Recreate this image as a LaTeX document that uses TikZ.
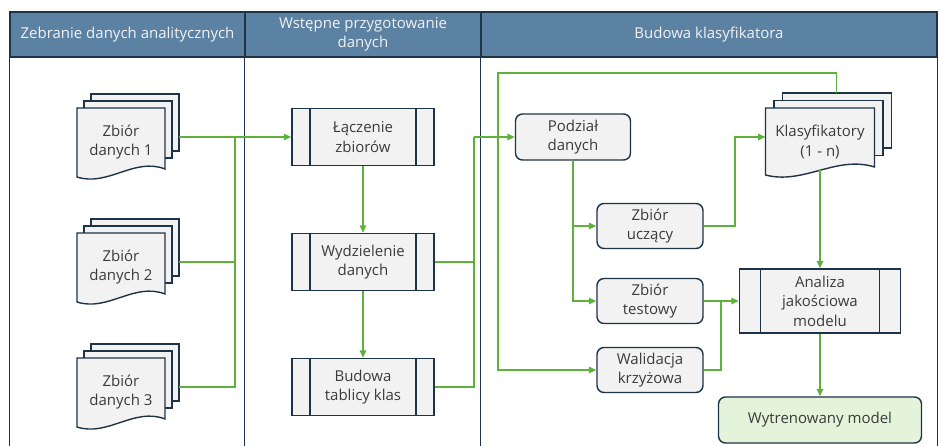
\documentclass[tikz,border=0pt]{standalone}
\usepackage{fontspec}
\setmainfont{Open Sans}
\usetikzlibrary{arrows.meta,backgrounds,calc}

\definecolor{navy}{HTML}{1F3347}
\definecolor{hdr}{HTML}{5B81A3}
\definecolor{flow}{HTML}{5EB13B}
\definecolor{boxfill}{HTML}{F2F2F2}
\definecolor{ink}{HTML}{3B3B3B}
\definecolor{done}{HTML}{E3F4DA}

\tikzset{
  lbl/.style={font=\fontsize{15}{19.5}\selectfont, text=ink, align=center},
  hdrcell/.style={draw=navy, line width=1.5pt, fill=hdr, text=white!95!black,
    font=\fontsize{15}{19.5}\selectfont, align=center, minimum height=45pt, inner sep=0pt},
  frame/.style={draw=navy, line width=1.5pt},
  box/.style={lbl, draw=navy, line width=1.4pt, fill=boxfill, inner sep=0pt},
  rbox/.style={box, rounded corners=7pt},
  procbox/.style={box, path picture={
      \draw[navy, line width=1.4pt]
        ([xshift=#1]path picture bounding box.north west) -- ([xshift=#1]path picture bounding box.south west)
        ([xshift=-#1]path picture bounding box.north east) -- ([xshift=-#1]path picture bounding box.south east);}},
  page/.style={draw=navy, line width=1.4pt, fill=boxfill},
  wire/.style={draw=flow, line width=1.6pt},
  arrow/.style={wire, -{Triangle[length=7.5pt, width=6.5pt]}},
}

% stacked document symbol around a text node
% #1 node name, #2 half width, #3 top above centre, #4 lower left corner below centre,
% #5 / #6 horizontal / vertical offset of the pages behind
\newcommand\docstack[6]{%
  \begin{scope}[on background layer, shift={(#1.center)}]
    \foreach \k in {2,1}{
      \filldraw[page] ({-#2+\k*#5},{-#3-\k*#6}) rectangle ({#2+\k*#5},{#4-12-\k*#6});
    }
    \filldraw[page] ({-#2},{-#3}) -- ({#2},{-#3}) -- ({#2},{#4-8})
      .. controls ({0.3*#2},{#4-20}) and ({-0.3*#2},{#4+10}) .. ({-#2},{#4}) -- cycle;
    \coordinate (#1-out) at ({#2+2*#5},-5);
    \coordinate (#1-in)  at ({-#2},-5);
    \coordinate (#1-top) at ({0.3*#2},{-#3-2*#6});
    \coordinate (#1-bot) at (0,{#4-5});
  \end{scope}}

\begin{document}
\begin{tikzpicture}[x=1pt, y=-1pt]
  \useasboundingbox (0,0) rectangle (938,445);
  \coordinate (bottom) at (0,447);

  % swimlane headers and lane borders
  \node[hdrcell, minimum width=235pt] (h1) at (127.5,34.5) {Zebranie danych analitycznych};
  \node[hdrcell, minimum width=236pt] (h2) at (363,34.5) {Wstępne przygotowanie\\danych};
  \node[hdrcell, minimum width=456pt] (h3) at (709,34.5) {Budowa klasyfikatora};
  \draw[frame] (h1.south west) -- (h1.south west |- bottom);
  \draw[frame] (h2.south west) -- (h2.south west |- bottom);
  \draw[frame] (h3.south west) -- (h3.south west |- bottom);
  \draw[frame] (h3.south east) -- (h3.south east |- bottom);

  % source data sets
  \node[lbl] (doc1) at (121,142) {Zbiór\\danych 1};
  \node[lbl] (doc2) at (121,267) {Zbiór\\danych 2};
  \node[lbl] (doc3) at (121,392) {Zbiór\\danych 3};
  \docstack{doc1}{44}{34}{35}{7}{7}
  \docstack{doc2}{44}{34}{35}{7}{7}
  \docstack{doc3}{44}{34}{35}{7}{7}

  % preparation steps
  \node[procbox=18pt, minimum width=142pt, minimum height=57pt] (lacz) at (363,137) {Łączenie\\zbiorów};
  \node[procbox=18pt, minimum width=142pt, minimum height=57pt] (wydz) at (363,262) {Wydzielenie\\danych};
  \node[procbox=18pt, minimum width=142pt, minimum height=57pt] (budt) at (363,387) {Budowa\\tablicy klas};

  % classifier building
  \node[rbox, minimum width=115pt, minimum height=46pt] (podz) at (573,137) {Podział\\danych};
  \node[rbox, minimum width=106pt, minimum height=45pt] (ucz) at (650,226) {Zbiór\\uczący};
  \node[rbox, minimum width=106pt, minimum height=45pt] (test) at (650,301) {Zbiór\\testowy};
  \node[rbox, minimum width=106pt, minimum height=45pt] (wal) at (650,370) {Walidacja\\krzyżowa};
  \node[lbl] (klas) at (820,142) {Klasyfikatory\\(1 - n)};
  \docstack{klas}{54.5}{34}{33}{8.5}{7.5}
  \node[procbox=21pt, minimum width=161pt, minimum height=64pt] (anal) at (820,301) {Analiza\\jakościowa\\modelu};
  \node[rbox, fill=done, minimum width=203pt, minimum height=46pt] (wytr) at (820,420) {Wytrenowany model};

  % gathering of the data sets
  \coordinate (bus1) at (235,137);
  \draw[wire] (doc3-out) -| (bus1);
  \draw[wire] (doc2-out) -- (doc2-out -| bus1);
  \draw[arrow] (doc1-out) -- (lacz.west);
  \draw[arrow] (lacz.south) -- (wydz.north);
  \draw[arrow] (wydz.south) -- (budt.north);

  % prepared data into the classifier lane
  \coordinate (bus2) at (474,137);
  \draw[wire] (budt.east) -| (bus2);
  \draw[wire] (wydz.east) -- (wydz.east -| bus2);
  \draw[arrow] (bus2) -- (podz.west);

  % split, training and evaluation
  \draw[arrow] (podz.south) |- (ucz.west);
  \draw[arrow] (podz.south) |- (test.west);
  \draw[arrow] (ucz.east) -- ++(31,0) |- (klas-in);
  \coordinate (loop) at (498,73);
  \draw[arrow] (klas-top) |- (loop) |- (wal.west);
  \draw[arrow] (klas-bot) -- (anal.north);
  \coordinate (join) at (721,301);
  \draw[wire] (wal.east) -| (join);
  \draw[arrow] (test.east) -- (anal.west);
  \draw[arrow] (anal.south) -- (wytr.north);
\end{tikzpicture}
\end{document}
